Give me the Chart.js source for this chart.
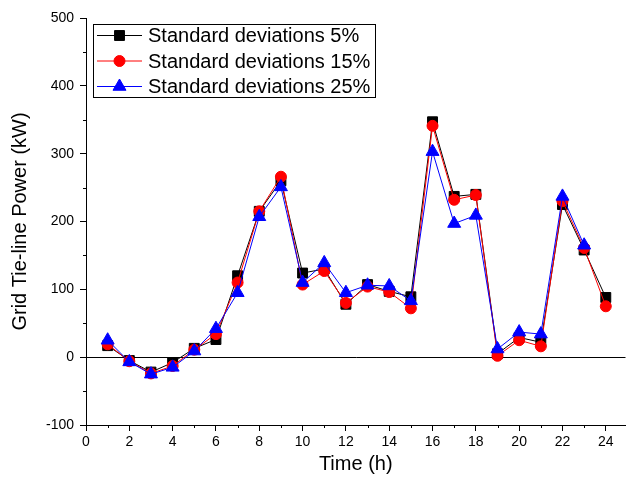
<!DOCTYPE html>
<html>
<head>
<meta charset="utf-8">
<script src="https://cdn.jsdelivr.net/npm/chart.js@4/dist/chart.umd.min.js"></script>
<style>
  body { margin: 0; background: #fff; }
  canvas { display: block; }
</style>
</head>
<body>
<canvas id="chart1" width="634" height="490"></canvas>
<script>
// hours and grid tie-line power (kW)
const hours = [1, 2, 3, 4, 5, 6, 7, 8, 9, 10, 11, 12, 13, 14, 15, 16, 17, 18, 19, 20, 21, 22, 23, 24];
const dev5  = [17, -5, -22, -8, 13, 26, 120, 215, 260, 124, 130, 78, 107, 97, 89, 347, 237, 240, 5, 29, 22, 225, 158, 88];
const dev15 = [19, -6, -24, -13, 11, 34, 110, 215, 266, 107, 127, 80, 104, 96, 72, 341, 232, 239, 2, 25, 16, 230, 161, 75];
const dev25 = [25, -7, -25, -15, 9, 42, 95, 207, 251, 110, 139, 95, 106, 105, 83, 303, 197, 209, 12, 37, 34, 237, 165, null];
const seriesNames = ['Standard deviations 5%', 'Standard deviations 15%', 'Standard deviations 25%'];
const yTicks = [-100, 0, 100, 200, 300, 400, 500];

function pts(vals) {
    return hours.map((h, i) => ({ x: h, y: vals[i] }));
}

// small ticks between the labelled ones
const minorTicks = {
    id: 'minorTicks',
    afterDraw(chart) {
        const c = chart.ctx;
        const xs = chart.scales.x, ys = chart.scales.y;
        c.save();
        c.strokeStyle = '#000';
        c.lineWidth = 1;
        c.beginPath();
        for (let h = 1; h < 25; h += 2) {
            const px = Math.round(xs.getPixelForValue(h)) + 0.5;
            c.moveTo(px, ys.bottom);
            c.lineTo(px, ys.bottom + 3);
        }
        for (let v = -50; v < 500; v += 100) {
            const py = Math.round(ys.getPixelForValue(v)) + 0.5;
            c.moveTo(xs.left - 3, py);
            c.lineTo(xs.left, py);
        }
        c.stroke();
        c.restore();
    }
};

// boxed legend with line + marker samples
const boxLegend = {
    id: 'boxLegend',
    afterDraw(chart) {
        const c = chart.ctx;
        const left = 93.5, top = 24.5, w = 282, h = 73;
        c.save();
        c.fillStyle = '#fff';
        c.fillRect(left, top, w, h);
        c.strokeStyle = '#000';
        c.lineWidth = 1;
        c.strokeRect(left, top, w, h);
        chart.data.datasets.forEach((ds, i) => {
            const cy = 35.5 + i * 25.5;
            c.strokeStyle = ds.borderColor;
            c.fillStyle = ds.borderColor;
            c.lineWidth = 1;
            c.beginPath();
            c.moveTo(97, cy);
            c.lineTo(142, cy);
            c.stroke();
            Chart.helpers.drawPoint(c, {
                pointStyle: ds.pointStyle,
                radius: ds.pointRadius,
                borderWidth: 1
            }, 119.5, cy);
            c.fillStyle = '#000';
            c.font = '20px "Liberation Sans", Arial, sans-serif';
            c.textBaseline = 'middle';
            c.fillText(ds.label, 148, cy + 1);
        });
        c.restore();
    }
};

function line(label, vals, color, style, r, order) {
    return {
        label: label,
        data: pts(vals),
        borderColor: color,
        backgroundColor: color,
        pointBackgroundColor: color,
        pointBorderColor: color,
        borderWidth: 1,
        pointStyle: style,
        pointRadius: r,
        pointHoverRadius: r,
        order: order
    };
}

const ctx1 = document.getElementById('chart1').getContext('2d');
const chart1 = new Chart(ctx1, {
    type: 'line',
    data: {
        datasets: [
            line(seriesNames[0], dev5, '#000000', 'rect', 7, 3),
            line(seriesNames[1], dev15, '#ff0000', 'circle', 5.5, 2),
            line(seriesNames[2], dev25, '#0000ff', 'triangle', 7.5, 1)
        ]
    },
    options: {
        responsive: false,
        animation: false,
        layout: { padding: { top: 18, right: 0, left: 0, bottom: 0 } },
        plugins: {
            legend: { display: false },
            tooltip: { enabled: false }
        },
        scales: {
            x: {
                type: 'linear',
                min: 0,
                max: 24.91,
                afterFit(scale) { scale.height = 65; },
                border: { display: true, color: '#000', width: 1 },
                grid: { drawOnChartArea: false, tickLength: 6, tickColor: '#000' },
                ticks: {
                    stepSize: 2,
                    includeBounds: false,
                    maxRotation: 0,
                    padding: 3,
                    color: '#000',
                    font: { family: '"Liberation Sans", Arial, sans-serif', size: 14 }
                },
                title: {
                    display: true,
                    text: 'Time (h)',
                    color: '#000',
                    padding: { top: 0, bottom: 14 },
                    font: { family: '"Liberation Sans", Arial, sans-serif', size: 20 }
                }
            },
            y: {
                min: -100,
                max: 500,
                afterFit(scale) { scale.width = 86; },
                afterBuildTicks(scale) { scale.ticks = yTicks.map(v => ({ value: v })); },
                border: { display: true, color: '#000', width: 1 },
                grid: {
                    drawOnChartArea: true,
                    tickLength: 6,
                    tickColor: '#000',
                    color: (c) => (c.tick && c.tick.value === 0 ? '#000' : 'rgba(0,0,0,0)')
                },
                ticks: {
                    padding: 6,
                    color: '#000',
                    font: { family: '"Liberation Sans", Arial, sans-serif', size: 14 }
                },
                title: {
                    display: true,
                    text: 'Grid Tie-line Power (kW)',
                    color: '#000',
                    padding: { top: 8, bottom: 0 },
                    font: { family: '"Liberation Sans", Arial, sans-serif', size: 20 }
                }
            }
        }
    },
    plugins: [minorTicks, boxLegend]
});
</script>
</body>
</html>
